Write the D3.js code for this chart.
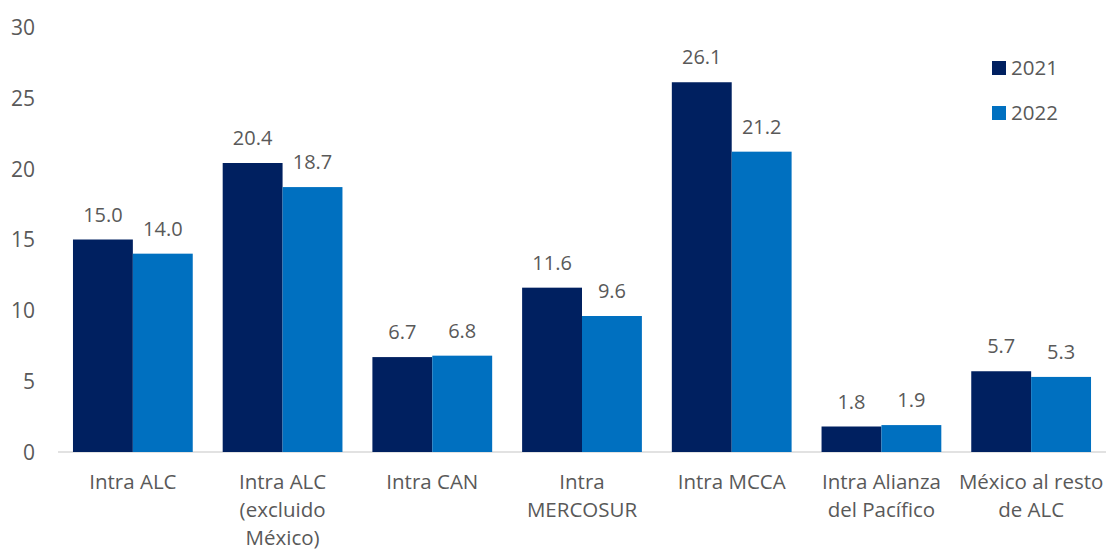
<html>
<head>
<meta charset="utf-8">
<style>
body { margin: 0; background: #fff; }
text { font-family: "Open Sans", "Noto Sans", sans-serif; fill: #595959; }
.axis text { font-size: 21px; }
.lbl { font-size: 20px; }
.cat, .leg { font-size: 20.5px; }
.axis path, .axis line { display: none; }
.base { stroke: #d9d9d9; stroke-width: 1.5; }
</style>
</head>
<body>
<svg width="1106" height="552"></svg>
<script src="https://cdn.jsdelivr.net/npm/d3@7"></script>
<script>
var categories = [
  ["Intra ALC"],
  ["Intra ALC", "(excluido", "México)"],
  ["Intra CAN"],
  ["Intra", "MERCOSUR"],
  ["Intra MCCA"],
  ["Intra Alianza", "del Pacífico"],
  ["México al resto", "de ALC"]
];
var series = ["2021", "2022"];
var v2021 = [15.0, 20.4, 6.7, 11.6, 26.1, 1.8, 5.7];
var v2022 = [14.0, 18.7, 6.8, 9.6, 21.2, 1.9, 5.3];
var yTicks = [0, 5, 10, 15, 20, 25, 30];
var colors = ["#002060", "#0070C0"];

var svg = d3.select("svg"),
    margin = {top: 27, right: 0, bottom: 100, left: 58},
    width = 1106 - margin.left - margin.right,
    height = 452 - margin.top;

var g = svg.append("g")
    .attr("transform", "translate(" + margin.left + "," + margin.top + ")");

var x = d3.scaleBand()
  .domain(d3.range(categories.length))
  .range([0, width])
  .paddingInner(0.2)
  .paddingOuter(0.1);

var xs = d3.scaleBand()
  .domain(series)
  .range([0, x.bandwidth()]);

var y = d3.scaleLinear()
  .domain([0, 30])
  .range([height, 0]);

//y axis
g.append("g")
  .attr("class", "axis")
  .call(d3.axisLeft(y).tickValues(yTicks).tickSize(0).tickPadding(23))
  .call(function(s) { s.selectAll("text").attr("dy", "0.35em"); });

//baseline
g.append("line")
  .attr("class", "base")
  .attr("x1", 0).attr("x2", width)
  .attr("y1", y(0)).attr("y2", y(0));

var rows = categories.map(function(c, i) {
  return {i: i, vals: [v2021[i], v2022[i]]};
});

var grp = g.selectAll(".grp")
  .data(rows)
  .enter().append("g")
  .attr("class", "grp")
  .attr("transform", function(d) { return "translate(" + x(d.i) + ",0)"; });

var cells = grp.selectAll(".cell")
  .data(function(d) { return d.vals.map(function(v, k) { return {v: v, k: k}; }); })
  .enter();

cells.append("rect")
  .attr("x", function(d) { return xs(series[d.k]); })
  .attr("width", xs.bandwidth())
  .attr("y", function(d) { return y(d.v); })
  .attr("height", function(d) { return y(0) - y(d.v); })
  .attr("fill", function(d) { return colors[d.k]; });

cells.append("text")
  .attr("class", "lbl")
  .attr("text-anchor", "middle")
  .attr("x", function(d) { return xs(series[d.k]) + xs.bandwidth() / 2; })
  .attr("y", function(d) { return y(d.v) - 18; })
  .text(function(d) { return d.v.toFixed(1); });

//category labels
var cat = g.selectAll(".cat")
  .data(categories)
  .enter().append("text")
  .attr("class", "cat")
  .attr("text-anchor", "middle")
  .attr("transform", function(d, i) { return "translate(" + (x(i) + x.bandwidth() / 2) + "," + (height + 37) + ")"; });

cat.selectAll("tspan")
  .data(function(d) { return d; })
  .enter().append("tspan")
  .attr("x", 0)
  .attr("dy", function(d, i) { return i ? 28 : 0; })
  .text(function(d) { return d; });

//legend
var leg = svg.append("g")
  .attr("transform", "translate(992,61)");

var li = leg.selectAll(".li")
  .data(series)
  .enter().append("g")
  .attr("transform", function(d, i) { return "translate(0," + i * 45 + ")"; });

li.append("rect")
  .attr("width", 14).attr("height", 14)
  .attr("fill", function(d, i) { return colors[i]; });

li.append("text")
  .attr("class", "leg")
  .attr("x", 19)
  .attr("y", 7)
  .attr("dy", "0.35em")
  .text(function(d) { return d; });
</script>
</body>
</html>
